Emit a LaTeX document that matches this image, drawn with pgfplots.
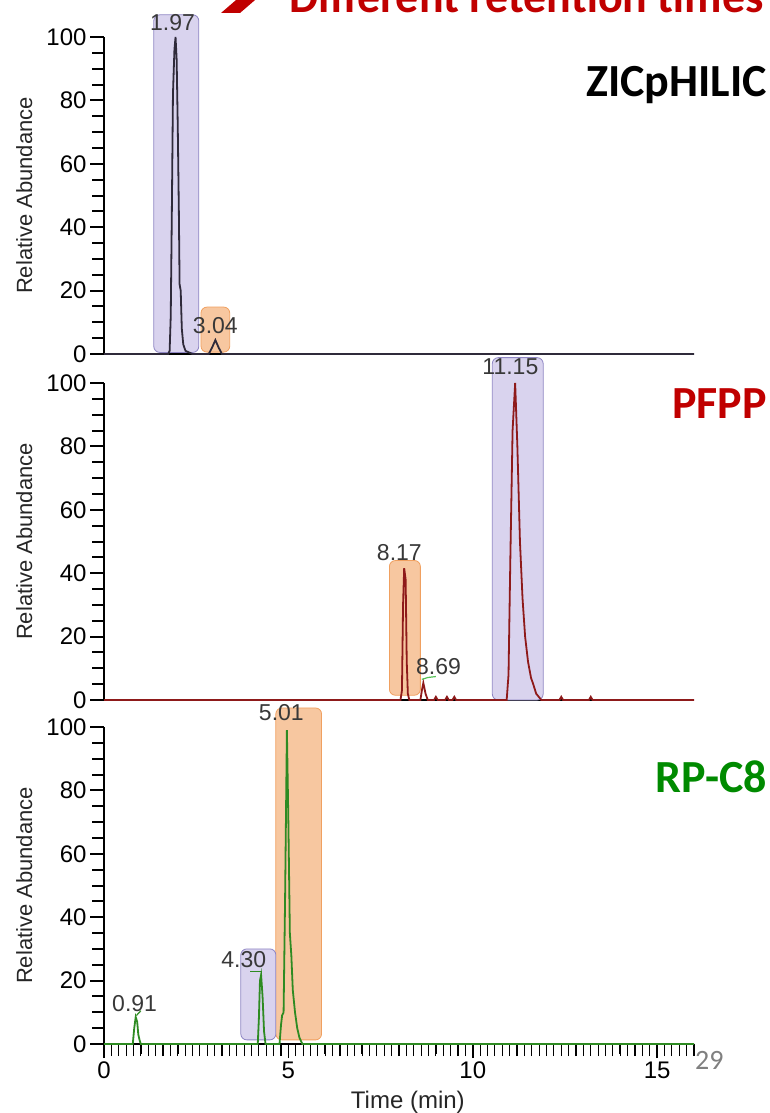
\documentclass[border=0pt]{standalone}
\usepackage{pgfplots}
\pgfplotsset{compat=1.18}
\usepackage{fontspec}
\setmainfont{Liberation Sans}
\newfontfamily\calibri{Carlito}
\definecolor{hiliccol}{HTML}{2F2A3A}
\definecolor{pfppcol}{HTML}{8E1A1A}
\definecolor{rpcol}{HTML}{2E8B22}
\definecolor{markgreen}{HTML}{55C255}
\definecolor{slidered}{HTML}{C00000}
\definecolor{slidegreen}{HTML}{008A00}
\definecolor{boxpurple}{HTML}{D9D3EE}
\definecolor{boxpurpleedge}{HTML}{8F86C4}
\definecolor{boxorange}{HTML}{F7C7A0}
\definecolor{boxorangeedge}{HTML}{F0A060}
\pgfplotsset{
  chrom/.style={
    scale only axis, width=590pt, height=317pt,
    xmin=0, xmax=16, ymin=0, ymax=100,
    axis lines*=left, axis line style={black, line width=2.4pt, -},
    clip=false,
    ytick={0,20,...,100}, minor ytick={0,5,...,100},
    tick align=outside, tick style={black, line width=2pt},
    major tick length=14pt, minor tick length=12pt,
    ticklabel style={font=\fontsize{24}{24}\selectfont},
    /pgf/number format/assume math mode=true,
    ylabel={Relative Abundance},
    every axis y label/.style={at={(axis description cs:-0.135,0.5)}, rotate=90, anchor=center,
      font=\fontsize{22}{22}\selectfont, text=black!85},
    every axis plot/.append style={line width=1.8pt, mark=none},
  },
  hidex/.style={xtick=\empty},
}
\tikzset{
  pbox/.style={fill=boxpurple, draw=boxpurpleedge, line width=0.8pt, rounded corners=6pt},
  obox/.style={fill=boxorange, draw=boxorangeedge, line width=0.8pt, rounded corners=6pt},
  plab/.style={font=\fontsize{23}{23}\selectfont, text=black!78},
}
\begin{document}
\begin{tikzpicture}[x=1pt, y=1pt]
\useasboundingbox (0pt,0pt) rectangle (770pt,-1113pt);

% title, cut at the top edge as in the slide
\fill[slidered] (221pt,-13pt) -- (240pt,-13pt) -- (262pt,6pt) -- (243pt,6pt) -- cycle;
\node[anchor=base east, text=slidered, font=\calibri\bfseries\fontsize{46}{46}\selectfont, inner sep=0pt]
  at (764pt,-13pt) {Different retention times};

% ---- ZICpHILIC ----
\begin{axis}[chrom, hidex, at={(104pt,-354pt)}, anchor=south west]
\draw[pbox] (axis cs:1.35,0.5) rectangle (axis cs:2.57,107);
\draw[obox] (axis cs:2.63,0.6) rectangle (axis cs:3.41,14.8);
\addplot[hiliccol] coordinates {
 (0,0)(1.74,0)(1.78,1)(1.81,12)(1.84,45)(1.87,82)(1.91,96)(1.94,100)(1.97,93)(2.00,72)
 (2.03,45)(2.05,22)(2.08,20)(2.11,8)(2.15,3)(2.21,1)(2.40,0)(2.84,0)(2.93,2)(3.02,4.4)
 (3.11,2)(3.20,0)(16,0)};
\node[plab] at (axis cs:1.86,104.5) {1.97};
\node[plab] at (axis cs:3.02,9.1) {3.04};
\end{axis}
\node[anchor=base east, font=\calibri\bfseries\fontsize{46}{46}\selectfont, inner sep=0pt]
  at (767pt,-97pt) {ZICpHILIC};

% ---- PFPP ----
\begin{axis}[chrom, hidex, at={(104pt,-700pt)}, anchor=south west]
\draw[pbox] (axis cs:10.53,0) rectangle (axis cs:11.91,108);
\draw[obox] (axis cs:7.74,1.5) rectangle (axis cs:8.58,44);
\addplot[pfppcol] coordinates {
 (0,0)(8.04,0)(8.08,3)(8.11,30)(8.14,41.6)(8.18,38)(8.21,12)(8.24,2)(8.28,0)(8.58,0)
 (8.62,3)(8.66,5.4)(8.72,2)(8.78,0)(8.95,0)(9.0,1)(9.05,0)(9.25,0)(9.3,1)(9.35,0)
 (9.45,0)(9.5,1)(9.55,0)(10.92,0)(10.97,8)(11.02,45)(11.08,85)(11.15,100)(11.21,80)
 (11.28,50)(11.35,32)(11.42,20)(11.50,12)(11.58,7)(11.64,5)(11.72,2)(11.86,0)(12.35,0)
 (12.4,1)(12.45,0)(13.15,0)(13.2,1)(13.25,0)(16,0)};
\addplot[markgreen, line width=1.2pt] coordinates {(8.62,6.5)(8.78,7.1)(9.0,7.4)};
\node[plab] at (axis cs:8.01,46.4) {8.17};
\node[plab] at (axis cs:9.07,10.5) {8.69};
\node[plab] at (axis cs:11.02,105) {11.15};
\end{axis}
\node[anchor=base east, text=slidered, font=\calibri\bfseries\fontsize{46}{46}\selectfont, inner sep=0pt]
  at (767pt,-418pt) {PFPP};

% ---- RP-C8 ----
\begin{axis}[chrom, at={(104pt,-1044pt)}, anchor=south west,
  xtick={0,5,10,15}, minor xtick={0,0.2,...,16},
  extra x ticks={1,2,3,4,6,7,8,9,11,12,13,14,16},
  extra x tick labels={},
  extra x tick style={major tick length=10pt},
  xlabel={Time (min)},
  every axis x label/.style={at={(axis description cs:0.515,-0.185)}, anchor=center,
    font=\fontsize{24}{24}\selectfont, text=black!85},
  x tick style={line width=1.6pt}, minor x tick style={line width=1.2pt},
]
\draw[obox] (axis cs:4.66,1.3) rectangle (axis cs:5.90,106);
\draw[pbox] (axis cs:3.71,1.3) rectangle (axis cs:4.66,30);
\addplot[rpcol] coordinates {
 (0,0)(0.78,0)(0.82,5)(0.86,8.5)(0.90,7)(0.93,3)(0.97,1)(1.00,0)(4.17,0)(4.20,8)
 (4.23,20)(4.26,21.8)(4.30,15)(4.34,4)(4.38,0)(4.76,0)(4.80,6)(4.83,9)(4.87,10)
 (4.91,45)(4.96,99)(5.00,70)(5.04,35)(5.08,28)(5.12,17)(5.18,10)(5.24,5)(5.30,2)
 (5.38,0)(16,0)};
\addplot[rpcol, line width=1.2pt] coordinates {(3.97,22.8)(4.28,22.8)};
\addplot[rpcol, line width=1.2pt] coordinates {(0.88,9)(1.0,10.5)};
\node[plab] at (axis cs:0.83,12.9) {0.91};
\node[plab] at (axis cs:3.79,26.5) {4.30};
\node[plab] at (axis cs:4.81,104.4) {5.01};
\end{axis}
\node[anchor=base east, text=slidegreen, font=\calibri\bfseries\fontsize{46}{46}\selectfont, inner sep=0pt]
  at (767pt,-792pt) {RP-C8};
\node[anchor=base west, text=black!50, font=\calibri\fontsize{28}{28}\selectfont, inner sep=0pt]
  at (695pt,-1069pt) {29};
\end{tikzpicture}
\end{document}
